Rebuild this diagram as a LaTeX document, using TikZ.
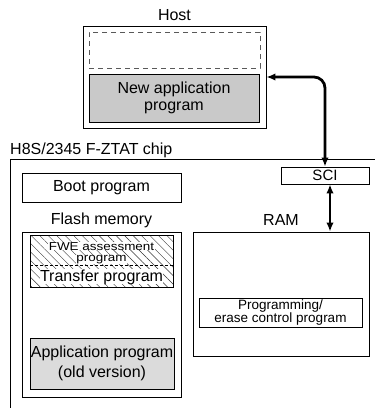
\documentclass[tikz,border=0pt]{standalone}
\usepackage{fontspec}
\setmainfont{Liberation Sans}
\usetikzlibrary{arrows.meta,patterns.meta}
\begin{document}
\begin{tikzpicture}[x=1pt,y=-1pt,
  box/.style={draw,line width=0.8pt,inner sep=0pt,align=center,font=\fontsize{16}{17}\selectfont},
  lbl/.style={inner sep=0pt,font=\fontsize{16}{17}\selectfont},
  small/.style={font=\fontsize{13.5}{13.5}\selectfont},
  tiny/.style={font=\fontsize{11.5}{11.5}\selectfont},
  bigarrow/.style={line width=2.8pt,{Latex[length=9pt,width=7.5pt]}-{Latex[length=9pt,width=7.5pt]}},
]
\useasboundingbox (0,0) rectangle (375,408);
% Host
\node[lbl] (hostlbl) at (174.5,15.5) {Host};
\node[box,minimum width=183pt,minimum height=102pt] (host) at (174.5,77) {};
\node[draw=black!65,dash pattern=on 5pt off 4pt,line width=0.8pt,inner sep=0pt,minimum width=171pt,minimum height=36pt] (empty) at (174.5,50) {};
\node[box,fill=black!21,minimum width=170pt,minimum height=48pt] (newapp) at (174,98) {New application\\program};
% chip
\draw[line width=0.8pt] (10,420) -- (10,159) -- (390,159);
\node[lbl,anchor=west] (chiplbl) at (10,150) {H8S/2345 F-ZTAT chip};
\node[box,minimum width=88pt,minimum height=17pt,font=\fontsize{15}{15}\selectfont] (sci) at (325,175.5) {SCI};
\node[box,minimum width=159pt,minimum height=29pt] (boot) at (101.5,187.5) {Boot program};
\node[lbl] (flashlbl) at (101.5,220) {Flash memory};
\node[box,minimum width=159pt,minimum height=165pt] (flash) at (101.5,314.5) {};
\node[lbl] (ramlbl) at (281,220) {RAM};
\node[box,minimum width=176pt,minimum height=124pt] (ram) at (281,294) {};
% hatched
\node[box,minimum width=143pt,minimum height=52pt,pattern={Lines[angle=-45,distance=6pt,line width=0.4pt]},pattern color=black!80] (hatch) at (101.5,261) {};
\draw[line width=0.8pt,dash pattern=on 3pt off 2pt] (hatch.west |- 0,265) -- (hatch.east |- 0,265);
\node[fill=white,inner sep=0.3pt,tiny,anchor=base] (fwe1) at (101.5,250) {\scalebox{1.17}[1]{FWE assessment}};
\node[fill=white,inner sep=0.3pt,tiny,anchor=base] (fwe2) at (101.5,261.5) {\scalebox{1.17}[1]{program}};
\node[fill=white,inner sep=0.3pt,lbl,anchor=base] (transfer) at (101.5,281) {Transfer program};
% RAM content
\node[box,minimum width=163pt,minimum height=29pt,small] (prog) at (280.5,312.5) {Programming/\\erase control program};
% application old
\node[box,fill=black!14,minimum width=144pt,minimum height=51pt,font=\fontsize{16}{20}\selectfont] (app) at (102,363.5) {Application program\\(old version)};
% arrows
\draw[bigarrow,rounded corners=11pt] (host.east) -| (sci.north);
\draw[bigarrow] ([xshift=5pt]sci.south) -- ([xshift=5pt]sci.south |- ram.north);
\end{tikzpicture}
\end{document}
